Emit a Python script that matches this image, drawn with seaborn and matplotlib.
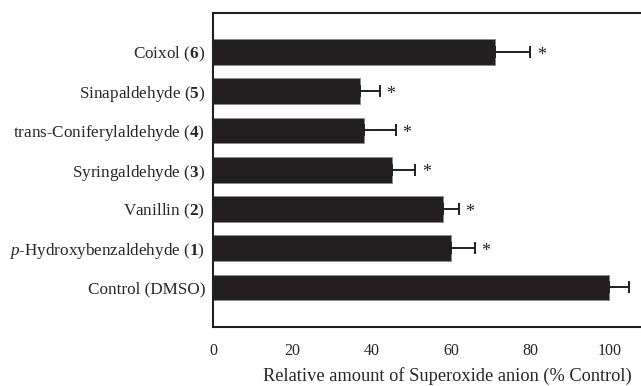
import matplotlib
matplotlib.use("Agg")
import matplotlib.pyplot as plt
import seaborn as sns
import pandas as pd

compounds = [
    r"Coixol ($\mathbf{6}$)",
    r"Sinapaldehyde ($\mathbf{5}$)",
    r"trans-Coniferylaldehyde ($\mathbf{4}$)",
    r"Syringaldehyde ($\mathbf{3}$)",
    r"Vanillin ($\mathbf{2}$)",
    r"$\mathit{p}$-Hydroxybenzaldehyde ($\mathbf{1}$)",
    r"Control (DMSO)",
]
values = [71, 37, 38, 45, 58, 60, 100]
errors = [9, 5, 8, 6, 4, 6, 5]
significant = [True, True, True, True, True, True, False]
xticks = [0, 20, 40, 60, 80, 100]

sns.set_style("white")
plt.rcParams["font.family"] = ["Liberation Serif", "DejaVu Serif"]
plt.rcParams["mathtext.fontset"] = "custom"
plt.rcParams["mathtext.rm"] = "Liberation Serif"
plt.rcParams["mathtext.bf"] = "Liberation Serif:bold"
plt.rcParams["mathtext.it"] = "Liberation Serif:italic"

df = pd.DataFrame({"compound": compounds, "value": values, "err": errors})

fig = plt.figure(figsize=(6.41, 3.86), dpi=100)
ax = fig.add_axes([0.333, 0.1536, 0.667, 0.8135])

bar_color = "#231f20"
sns.barplot(data=df, x="value", y="compound", orient="h", order=compounds,
            color=bar_color, saturation=1, width=0.655, edgecolor="#8a8a8a",
            linewidth=0.6, errorbar=None, ax=ax)

ypos = list(range(len(compounds)))
ax.errorbar(values, ypos, xerr=[[0] * len(errors), errors], fmt="none",
            ecolor=bar_color, elinewidth=1.4, capsize=4, capthick=1.4)

for i, (v, e, s) in enumerate(zip(values, errors, significant)):
    if s:
        ax.text(v + e + 2.8, i + 0.08, "*", ha="center", va="center",
                fontsize=13, color=bar_color)

ax.set_xlim(0, 108)
ax.set_ylim(len(compounds), -1)
ax.set_xticks(xticks)
ax.set_xticklabels([str(t) for t in xticks], fontsize=11.5)
ax.tick_params(axis="x", direction="out", length=4, width=0.8, color=bar_color,
               pad=8)
ax.tick_params(axis="y", length=0, labelsize=12.3, pad=6)
ax.set_ylabel("")
ax.set_xlabel("Relative amount of Superoxide anion (% Control)", fontsize=13.2,
              va="center")
ax.xaxis.set_label_coords(0.546, -0.158)

for side in ["left", "bottom", "top"]:
    ax.spines[side].set_visible(True)
    ax.spines[side].set_color(bar_color)
    ax.spines[side].set_linewidth(1.5)
ax.spines["right"].set_visible(False)

fig.savefig("out.png", dpi=100)
